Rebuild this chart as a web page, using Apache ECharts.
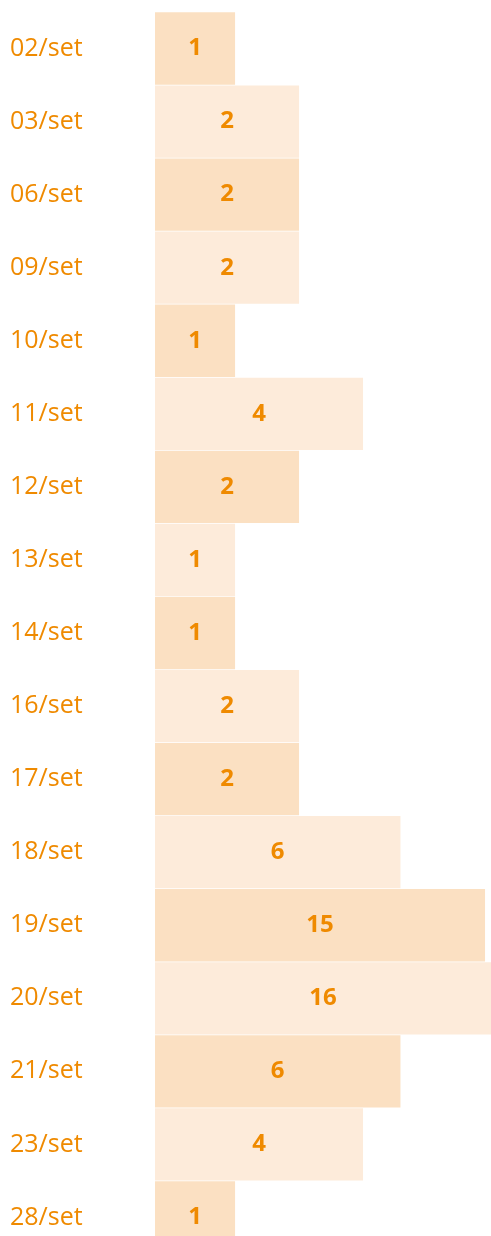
<!DOCTYPE html>
<html>
<head>
<meta charset="utf-8">
<script src="https://cdn.jsdelivr.net/npm/echarts@6/dist/echarts.min.js"></script>
<style>
  html, body { margin: 0; padding: 0; background: #fff; }
  #main { width: 491px; height: 1236px; }
</style>
</head>
<body>
<div id="main"></div>
<script>
var days = ['02/set', '03/set', '06/set', '09/set', '10/set', '11/set', '12/set', '13/set', '14/set',
            '16/set', '17/set', '18/set', '19/set', '20/set', '21/set', '23/set', '28/set'];
var counts = [1, 2, 2, 2, 1, 4, 2, 1, 1, 2, 2, 6, 15, 16, 6, 4, 1];
var rowColors = ['#fbe0c2', '#fdebda'];

var chartDom = document.getElementById('main');
var myChart = echarts.init(chartDom);
var option;

option = {
    animation: false,
    grid: {
        left: 155,
        right: 0,
        top: 12,
        height: 1242,            // last row runs past the bottom edge
        outerBoundsMode: 'none'  // don't squeeze the grid back into the canvas
    },
    xAxis: {
        type: 'log',
        min: 0.42,
        max: 16,
        startValue: 0.42,   // bars grow from the left edge, not from 1
        show: false
    },
    yAxis: {
        type: 'category',
        data: days,
        inverse: true,
        axisLine: { show: false },
        axisTick: { show: false },
        axisLabel: {
            align: 'left',
            margin: 145,
            color: '#ef8a00',
            fontSize: 25,
            fontFamily: 'Open Sans'
        }
    },
    series: [
        {
            type: 'bar',
            barCategoryGap: '1%',
            data: counts.map(function (v, i) {
                return { value: v, itemStyle: { color: rowColors[i % 2] } };
            }),
            label: {
                show: true,
                position: 'inside',
                color: '#ef8a00',
                fontSize: 24,
                fontWeight: 'bold',
                fontFamily: 'Open Sans'
            }
        }
    ]
};

option && myChart.setOption(option);
</script>
</body>
</html>
